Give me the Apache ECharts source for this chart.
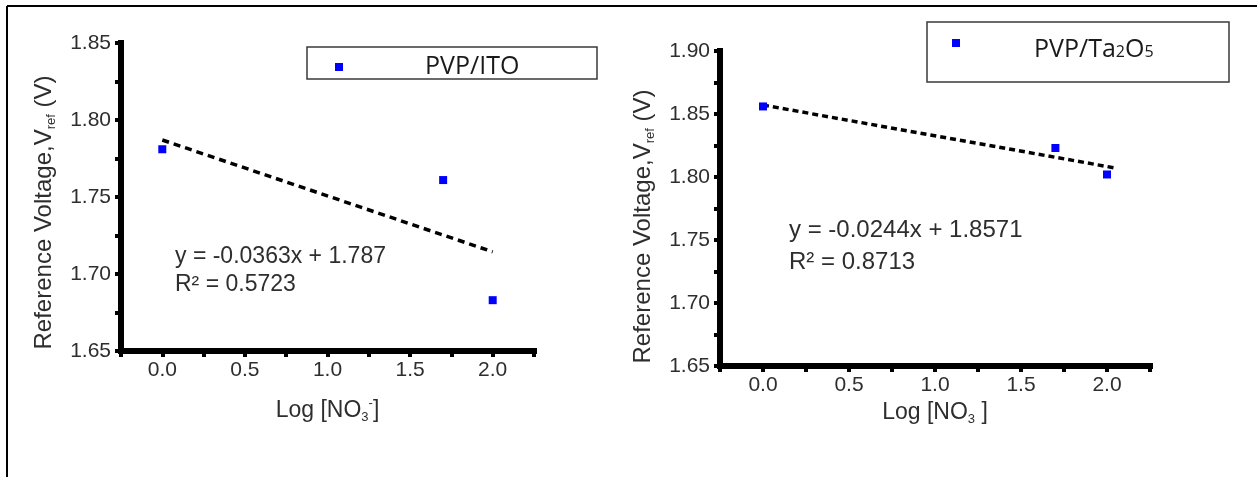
<!DOCTYPE html>
<html><head><meta charset="utf-8">
<script src="https://cdn.jsdelivr.net/npm/echarts@6/dist/echarts.min.js"></script>
<style>html,body{margin:0;padding:0;background:#fff}#c{width:1257px;height:477px}</style>
</head><body><div id="c"></div>
<script>
// ---- data ----
const logNO3 = [0, 1.7, 2.0];
const vrefITO = [1.781, 1.761, 1.683];
const vrefTa2O5 = [1.856, 1.823, 1.802];
const trendXITO = [0, 2.0];
const trendYITO = [1.787, 1.7144];
const trendXTa = [0, 2.05];
const trendYTa = [1.8571, 1.8071];
const xTickLabels = ['0.0', '0.5', '1.0', '1.5', '2.0'];
const yTickLabelsITO = ['1.65', '1.70', '1.75', '1.80', '1.85'];
const yTickLabelsTa = ['1.65', '1.70', '1.75', '1.80', '1.85', '1.90'];
const eqITO = ['y = -0.0363x + 1.787', 'R\u00b2 = 0.5723'];
const eqTa = ['y = -0.0244x + 1.8571', 'R\u00b2 = 0.8713'];
const seriesNames = ['PVP/ITO', 'PVP/Ta2O5'];

const FONT = '"Liberation Sans", Arial, sans-serif';
const LEG_FONT = '"Open Sans", sans-serif';
const TXT = '#2e2e2e';
const AXIS_STYLE = { color: '#000', width: 6, type: 'solid', cap: 'square' };

function xAxisCfg(gridIndex, gap) {
  return {
    type: 'value', gridIndex, min: -0.25, max: 2.25, interval: 0.25,
    axisLine: { show: true, onZero: false, lineStyle: AXIS_STYLE },
    axisTick: { show: true, length: 6, lineStyle: { color: '#000', width: 4 } },
    axisLabel: { color: TXT, fontSize: 21, fontFamily: FONT, margin: 9,
      formatter: v => { const s = v.toFixed(1); return xTickLabels.includes(s) && Math.abs(v * 2 - Math.round(v * 2)) < 1e-6 ? s : ''; } },
    splitLine: { show: false },
    name: gridIndex === 0 ? 'Log [NO{s|3}{p|-}]' : 'Log [NO{s|3} ]',
    nameLocation: 'middle', nameGap: gap,
    nameTextStyle: { color: TXT, fontSize: 23, fontFamily: FONT,
      rich: { s: { fontSize: 13, padding: [14, 0, 0, 0] }, p: { fontSize: 13, padding: [0, 0, 14, 0] } } }
  };
}
function yAxisCfg(gridIndex, min, max, labels, gap, shift) {
  return {
    type: 'value', gridIndex, min, max, interval: 0.025,
    axisLine: { show: true, onZero: false, lineStyle: AXIS_STYLE },
    axisTick: { show: true, length: 6, lineStyle: { color: '#000', width: 4 } },
    axisLabel: { color: TXT, fontSize: 21, fontFamily: FONT, margin: 10,
      formatter: v => { const s = v.toFixed(2); return labels.includes(s) && Math.abs(v * 20 - Math.round(v * 20)) < 1e-6 ? s : ''; } },
    splitLine: { show: false },
    name: 'Reference Voltage,V{s|ref} (V)',
    nameLocation: 'middle', nameGap: gap, nameRotate: 90,
    nameTextStyle: { color: TXT, fontSize: 24, fontFamily: FONT, padding: [0, shift, 0, 0],
      rich: { s: { fontSize: 13, padding: [14, 0, 0, 0] } } }
  };
}

const chart = echarts.init(document.getElementById('c'), null, { renderer: 'canvas' });
chart.setOption({
  animation: false,
  backgroundColor: '#fff',
  grid: [
    { left: 121, top: 43, width: 413, height: 308 },
    { left: 720, top: 51, width: 430, height: 315 }
  ],
  xAxis: [xAxisCfg(0, 46), xAxisCfg(1, 30)],
  yAxis: [
    yAxisCfg(0, 1.65, 1.85, yTickLabelsITO, 63, 31),
    yAxisCfg(1, 1.65, 1.90, yTickLabelsTa, 63, 36)
  ],
  legend: [
    { data: [seriesNames[0]], left: 335, top: 54, padding: 0, itemWidth: 8, itemHeight: 8, icon: 'rect',
      itemStyle: { opacity: 1 },
      textStyle: { fontFamily: LEG_FONT, fontSize: 25, color: '#1a1a1a', lineHeight: 26, padding: [0, 0, 0, 77] } },
    { data: [seriesNames[1]], left: 952, top: 23, padding: 0, itemWidth: 8, itemHeight: 8, icon: 'rect',
      itemStyle: { opacity: 1 },
      formatter: () => 'PVP/Ta{s|2}O{s|5}',
      textStyle: { fontFamily: LEG_FONT, fontSize: 25, color: '#1a1a1a', lineHeight: 26, padding: [14, 0, 0, 69],
        rich: { s: { fontSize: 16, padding: [4, 0, 0, 0] } } } }
  ],
  graphic: [
    { type: 'line', shape: { x1: 7, y1: 6, x2: 1257, y2: 6 }, style: { stroke: '#000', lineWidth: 2 } },
    { type: 'line', shape: { x1: 7, y1: 6, x2: 7, y2: 477 }, style: { stroke: '#000', lineWidth: 2 } },
    { type: 'rect', shape: { x: 307, y: 47, width: 290, height: 32 }, style: { fill: 'none', stroke: '#3a3a3a', lineWidth: 1.5 } },
    { type: 'rect', shape: { x: 927, y: 22, width: 302, height: 60 }, style: { fill: 'none', stroke: '#3a3a3a', lineWidth: 1.5 } },
    { type: 'text', style: { x: 175, y: 257, text: eqITO[0], font: '23px ' + FONT, fill: TXT, verticalAlign: 'middle' } },
    { type: 'text', style: { x: 175, y: 285, text: eqITO[1], font: '23px ' + FONT, fill: TXT, verticalAlign: 'middle' } },
    { type: 'text', style: { x: 789, y: 230, text: eqTa[0], font: '24px ' + FONT, fill: TXT, verticalAlign: 'middle' } },
    { type: 'text', style: { x: 789, y: 262, text: eqTa[1], font: '24px ' + FONT, fill: TXT, verticalAlign: 'middle' } }
  ],
  series: [
    { type: 'line', xAxisIndex: 0, yAxisIndex: 0, data: trendXITO.map((x, i) => [x, trendYITO[i]]),
      symbol: 'none', silent: true, lineStyle: { color: '#000', width: 3.5, type: [7, 5] }, z: 2 },
    { type: 'line', xAxisIndex: 1, yAxisIndex: 1, data: trendXTa.map((x, i) => [x, trendYTa[i]]),
      symbol: 'none', silent: true, lineStyle: { color: '#000', width: 3.5, type: [6, 4] }, z: 2 },
    { type: 'scatter', name: seriesNames[0], xAxisIndex: 0, yAxisIndex: 0,
      data: logNO3.map((x, i) => [x, vrefITO[i]]), symbol: 'rect', symbolSize: 8,
      itemStyle: { color: '#0000ff', opacity: 1 }, z: 3 },
    { type: 'scatter', name: seriesNames[1], xAxisIndex: 1, yAxisIndex: 1,
      data: logNO3.map((x, i) => [x, vrefTa2O5[i]]), symbol: 'rect', symbolSize: 8,
      itemStyle: { color: '#0000ff', opacity: 1 }, z: 3 }
  ]
});
</script>
</body></html>
